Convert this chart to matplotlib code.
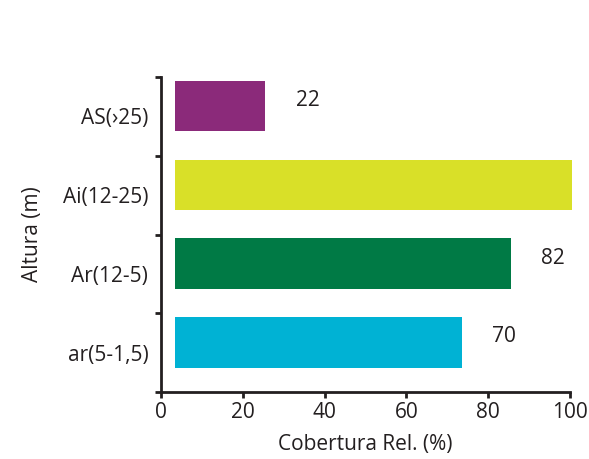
import numpy             as np
import matplotlib.pyplot as plt

# height strata (bottom to top) and relative cover
categories = ['ar(5-1,5)', 'Ar(12-5)', 'Ai(12-25)', 'AS(›25)']
cover      = [70, 82, 97, 22]
labels     = ['70', '82', '', '22']
colors     = ['#00B2D4', '#007A45', '#D9E028', '#8B2A7A']

BAR_START  = 3.5
TEXT_COLOR = '#231F20'
FONT_SIZE  = 15

plt.rcParams['font.family'] = ['Open Sans', 'DejaVu Sans']

fig = plt.figure(figsize = (5.89, 4.59), dpi = 100)
ax  = fig.add_axes([0.273, 0.146, 0.695, 0.686])

pos  = np.arange(len(categories)) + 0.63
bars = ax.barh(pos, cover, left = BAR_START, height = 0.64, color = colors)
for b in bars:
  b.set_clip_on(False)

for y, v, lab in zip(pos, cover, labels):
  if lab:
    ax.annotate(lab, xy = (BAR_START + v, y), xytext = (22, 4),
                textcoords = 'offset points', ha = 'left', va = 'center',
                fontsize = FONT_SIZE, color = TEXT_COLOR)

ax.set_xlim(0, 100)
ax.set_ylim(0, 4)
ax.set_xticks([0, 20, 40, 60, 80, 100])
ax.set_yticks([0, 1, 2, 3, 4])
ax.set_yticklabels([])
ax.set_yticks(np.arange(len(categories)) + 0.5, minor = True)
ax.set_yticklabels(categories, minor = True)
ax.tick_params(axis = 'y', which = 'minor', length = 0, pad = 9,
               labelsize = FONT_SIZE, labelcolor = TEXT_COLOR)
ax.tick_params(axis = 'y', which = 'major', length = 4, width = 2, color = TEXT_COLOR)
ax.tick_params(axis = 'x', length = 4, width = 2, color = TEXT_COLOR,
               labelsize = FONT_SIZE, labelcolor = TEXT_COLOR, pad = 3)

for side in ['top', 'right']:
  ax.spines[side].set_visible(False)
for side in ['left', 'bottom']:
  ax.spines[side].set_linewidth(2)
  ax.spines[side].set_color(TEXT_COLOR)

ax.set_xlabel('Cobertura Rel. (%)', fontsize = FONT_SIZE, color = TEXT_COLOR, labelpad = 8)
ax.set_ylabel('Altura (m)', fontsize = FONT_SIZE, color = TEXT_COLOR, labelpad = 14)

fig.savefig('out.png', dpi = 100)
